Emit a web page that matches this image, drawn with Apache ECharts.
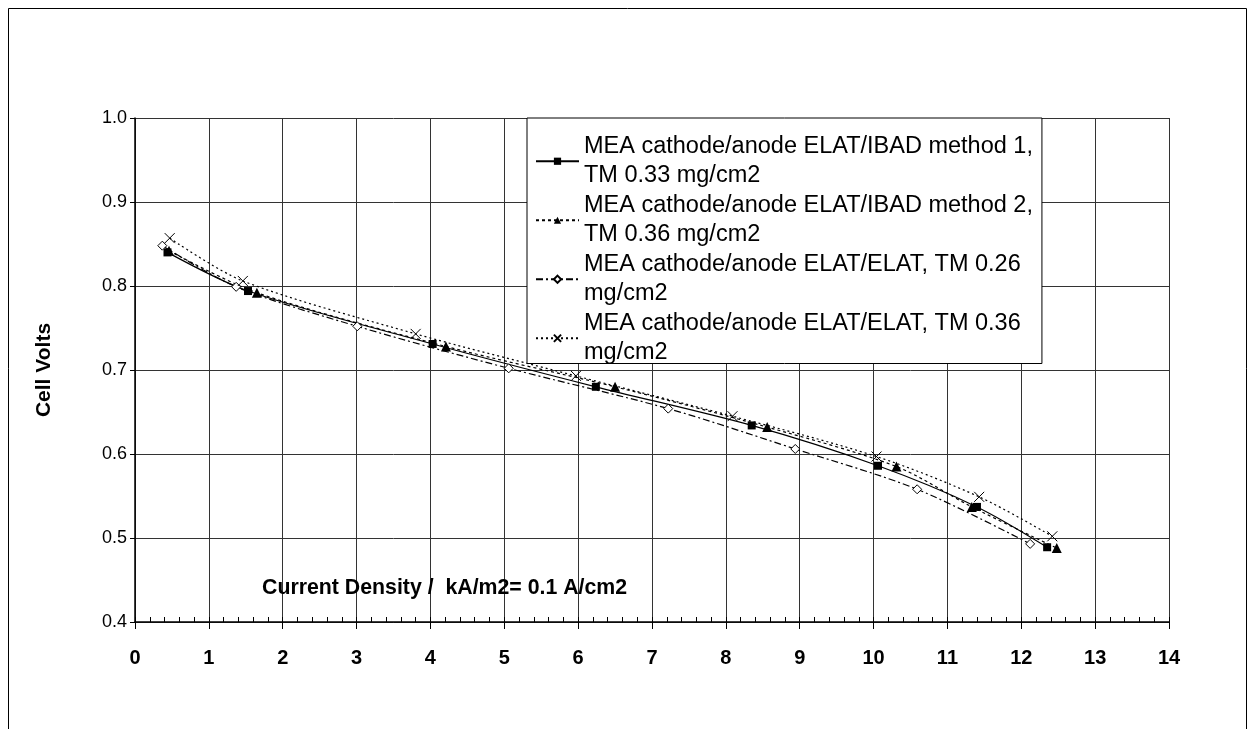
<!DOCTYPE html>
<html>
<head>
<meta charset="utf-8">
<script src="https://cdn.jsdelivr.net/npm/echarts@6/dist/echarts.min.js"></script>
<style>html,body{margin:0;padding:0;background:#fff}#c{width:1255px;height:729px}</style>
</head>
<body>
<div id="c"></div>
<script>
const seriesNames = [
  "MEA cathode/anode ELAT/IBAD method 1,\nTM 0.33 mg/cm2",
  "MEA cathode/anode ELAT/IBAD method 2,\nTM 0.36 mg/cm2",
  "MEA cathode/anode ELAT/ELAT, TM 0.26\nmg/cm2",
  "MEA cathode/anode ELAT/ELAT, TM 0.36\nmg/cm2"
];
const xSquare = [0.44, 1.53, 4.03, 6.24, 8.35, 10.06, 11.40, 12.35];
const ySquare = [0.840, 0.794, 0.731, 0.680, 0.634, 0.586, 0.537, 0.489];
const xTriangle = [0.46, 1.65, 4.21, 6.50, 8.56, 10.31, 11.33, 12.48];
const yTriangle = [0.842, 0.792, 0.728, 0.680, 0.632, 0.585, 0.537, 0.488];
const xDiamond = [0.37, 1.37, 3.01, 5.06, 7.22, 8.94, 10.59, 12.12];
const yDiamond = [0.848, 0.799, 0.752, 0.702, 0.654, 0.606, 0.558, 0.493];
const xCross = [0.47, 1.46, 3.80, 5.97, 8.09, 10.04, 11.43, 12.42];
const yCross = [0.857, 0.806, 0.743, 0.693, 0.645, 0.597, 0.549, 0.502];
const xAxisTitle = "Current Density /  kA/m2= 0.1 A/cm2";
const yAxisTitle = "Cell Volts";

const FONT = "'Liberation Sans', Arial, sans-serif";
const pairs = (xs, ys) => xs.map((x, i) => [x, ys[i]]);

const chart = echarts.init(document.getElementById('c'), null, {renderer: 'canvas'});
const base = {type: 'line', smooth: 0.3, xAxisIndex: 0, yAxisIndex: 0};
chart.setOption({
  animation: false,
  backgroundColor: '#fff',
  title: {
    text: xAxisTitle, left: 262, top: 578, padding: 0,
    textStyle: {fontFamily: FONT, fontSize: 21.3, fontWeight: 'bold', color: '#000'}
  },
  grid: {left: 135, right: 86, top: 118, bottom: 107, containLabel: false},
  xAxis: [{
    type: 'value', min: 0, max: 14, interval: 1,
    axisLine: {show: true, lineStyle: {color: '#000', width: 1.5}},
    axisTick: {show: true, inside: false, length: 7, lineStyle: {color: '#000'}},
    axisLabel: {fontFamily: FONT, fontSize: 20, fontWeight: 'bold', color: '#000', margin: 26},
    splitLine: {show: true, lineStyle: {color: '#333', width: 1}}
  }, {
    type: 'value', min: 0, max: 14, interval: 0.2, position: 'bottom',
    axisLine: {show: false},
    axisTick: {show: true, inside: true, length: 5, lineStyle: {color: '#000'}},
    axisLabel: {show: false},
    splitLine: {show: false}
  }],
  yAxis: {
    type: 'value', min: 0.4, max: 1.0, interval: 0.1,
    name: yAxisTitle, nameLocation: 'middle', nameGap: 80,
    nameTextStyle: {fontFamily: FONT, fontSize: 21, fontWeight: 'bold', color: '#000'},
    axisLine: {show: true, lineStyle: {color: '#000', width: 1.5}},
    axisTick: {show: true, inside: false, length: 5, lineStyle: {color: '#000'}},
    axisLabel: {fontFamily: FONT, fontSize: 18, color: '#000', margin: 8,
      formatter: v => v.toFixed(1)},
    splitLine: {show: true, lineStyle: {color: '#333', width: 1}}
  },
  legend: {
    orient: 'vertical', left: 527, top: 118,
    itemWidth: 43, itemHeight: 9, itemGap: -29.5,
    padding: [-1, 9, -19, 8],
    backgroundColor: '#fff', borderColor: '#000', borderWidth: 1,
    textStyle: {fontFamily: FONT, fontSize: 23.5, color: '#000', lineHeight: 29.5, padding: [29.5, 0, 0, 0]},
    data: seriesNames
  },
  series: [
    Object.assign({}, base, {
      name: seriesNames[0], data: pairs(xSquare, ySquare),
      symbol: 'rect', symbolSize: 8,
      itemStyle: {color: '#000'},
      lineStyle: {color: '#000', width: 1.2, type: 'solid'}
    }),
    Object.assign({}, base, {
      name: seriesNames[1], data: pairs(xTriangle, yTriangle),
      symbol: 'triangle', symbolSize: 10,
      itemStyle: {color: '#000'},
      lineStyle: {color: '#000', width: 1.2, type: [3, 3]}
    }),
    Object.assign({}, base, {
      name: seriesNames[2], data: pairs(xDiamond, yDiamond),
      symbol: 'diamond', symbolSize: 9,
      itemStyle: {color: '#fff', borderColor: '#000', borderWidth: 1},
      lineStyle: {color: '#000', width: 1.2, type: [7, 3, 2, 3]}
    }),
    Object.assign({}, base, {
      name: seriesNames[3], data: pairs(xCross, yCross),
      symbol: 'path://M0,0L10,10M0,10L10,0', symbolSize: 10,
      itemStyle: {color: '#000', borderColor: '#000', borderWidth: 1},
      lineStyle: {color: '#000', width: 1.2, type: [2, 3]}
    })
  ],
  graphic: [{
    type: 'polyline', silent: true,
    shape: {points: [[8.5, 729], [8.5, 8.5], [1246.5, 8.5], [1246.5, 729]]},
    style: {stroke: '#000', lineWidth: 1, fill: 'none'}
  }]
});
</script>
</body>
</html>
